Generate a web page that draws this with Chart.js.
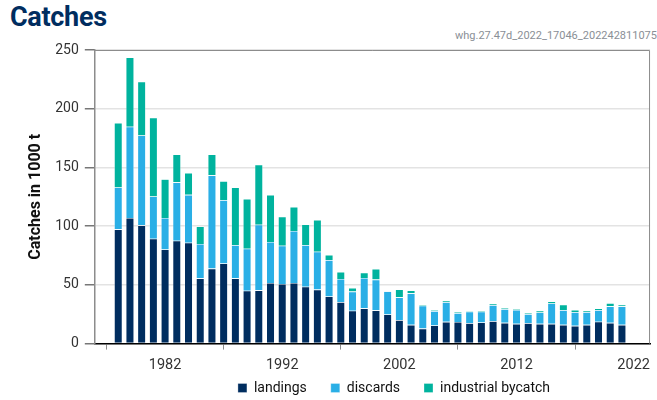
<!DOCTYPE html>
<html>
<head>
<meta charset="utf-8">
<script src="https://cdn.jsdelivr.net/npm/chart.js@4"></script>
<style>
  body { margin: 0; background: #fff; }
  #box { position: relative; width: 657px; height: 400px; overflow: hidden; }
  #titulo { position: absolute; left: 10px; top: 1px; font: bold 27px Roboto, sans-serif; color: #002d5f; letter-spacing: -0.3px; }
  #codigo { position: absolute; left: 455px; top: 29px; width: 202px; overflow: hidden; white-space: nowrap; font: 11px Roboto, sans-serif; color: #8a8f96; }
  canvas { position: absolute; left: 0; top: 0; }
</style>
</head>
<body>
<div id="box">
  <div id="titulo">Catches</div>
  <div id="codigo">whg.27.47d_2022_17046_20224281107525</div>
  <canvas id="grafico" width="657" height="400"></canvas>
</div>
<script>
// anos e valores (mil toneladas)
const anos = [1978, 1979, 1980, 1981, 1982, 1983, 1984, 1985, 1986, 1987, 1988, 1989, 1990, 1991,
  1992, 1993, 1994, 1995, 1996, 1997, 1998, 1999, 2000, 2001, 2002, 2003, 2004, 2005, 2006, 2007,
  2008, 2009, 2010, 2011, 2012, 2013, 2014, 2015, 2016, 2017, 2018, 2019, 2020, 2021];

const landings = [97.3, 107, 100.7, 89.3, 80.2, 87.6, 85.9, 55.6, 63.9, 68.2, 55.6, 45.1, 45.4, 51.6,
  50.8, 51.6, 48.5, 46, 40.2, 35.4, 28, 30, 28.3, 24.8, 20, 16, 12.8, 15.4, 18.5, 18.4,
  17.4, 18, 19.1, 17.7, 16.8, 17.4, 16.8, 16.8, 16, 15.1, 16, 18.6, 17.7, 16];

const discards = [35.7, 77.7, 76.5, 36, 26.8, 49.7, 40.8, 29.2, 79.4, 53.9, 28.3, 35.7, 55.9, 35,
  32.5, 44.3, 35.4, 32.2, 30.9, 19.7, 16.3, 25.9, 26.2, 19.7, 19.4, 26.8, 19.5, 12.3, 16.8, 7.6,
  9.7, 9.1, 13.7, 11.7, 12, 7.7, 9.7, 17.4, 12.5, 11.7, 10.8, 9.9, 14, 15.7];

const bycatch = [55, 59, 45.8, 67, 33, 23.9, 18.6, 15.1, 17.9, 16.3, 49.1, 42.5, 51.1, 40,
  24.8, 20.5, 17.7, 27.1, 4.5, 5.9, 3.1, 4.6, 9.1, 0.6, 6.8, 2.6, 0.7, 0.8, 1.2, 0.9,
  0.6, 0.9, 1.2, 0.9, 0.9, 0.9, 1.5, 1.8, 4.6, 2, 1.2, 1.5, 2.8, 1.4];

const anosMarcados = [1982, 1992, 2002, 2012, 2022];
const ticksY = [0, 50, 100, 150, 200, 250];

const fonte = 'Roboto, sans-serif';

// junta ano + valor para o eixo linear
function pontos(valores) {
  return anos.map((a, i) => ({ x: a, y: valores[i] }));
}

// moldura cinza em cima e na direita da area do grafico
const moldura = {
  id: 'moldura',
  afterDraw(chart) {
    const c = chart.ctx, a = chart.chartArea;
    c.save();
    c.strokeStyle = '#8c8c8c';
    c.lineWidth = 1;
    c.beginPath();
    c.moveTo(a.left, a.top + 0.5);
    c.lineTo(a.right - 0.5, a.top + 0.5);
    c.lineTo(a.right - 0.5, a.bottom);
    c.stroke();
    c.restore();
  }
};

// a legenda fica embaixo, um pouco deslocada para a direita como na figura
const moverLegenda = {
  id: 'moverLegenda',
  afterLayout(chart) {
    const lg = chart.legend;
    const pad = lg.options.labels.padding;
    const dx = 394 - (lg.left + lg.right) / 2;
    const dy = (388 - pad - 7) - lg.top;
    lg.left += dx; lg.right += dx;
    lg.top += dy; lg.bottom += dy;
  }
};

const estilo = { borderColor: 'rgba(255,255,255,0.5)', borderWidth: 0.6, barPercentage: 0.9, categoryPercentage: 0.78 };

new Chart(document.getElementById('grafico'), {
  type: 'bar',
  data: {
    datasets: [
      { label: 'landings', data: pontos(landings), backgroundColor: '#002d5f', ...estilo },
      { label: 'discards', data: pontos(discards), backgroundColor: '#2aafe6', ...estilo },
      { label: 'industrial bycatch', data: pontos(bycatch), backgroundColor: '#00b39e', ...estilo }
    ]
  },
  options: {
    responsive: false,
    animation: false,
    layout: { padding: { top: 50, right: 2, left: 22, bottom: -29 } },
    scales: {
      x: {
        type: 'linear',
        stacked: true,
        offset: false,
        min: 1976,
        max: 2023.4,
        afterBuildTicks: (eixo) => { eixo.ticks = anosMarcados.map(v => ({ value: v })); },
        ticks: { color: '#333', font: { family: fonte, size: 14.5 }, padding: 7, callback: (v) => String(v) },
        grid: { drawOnChartArea: false, drawTicks: true, tickLength: 6, color: '#8c8c8c' },
        border: { color: '#000', width: 1.5 }
      },
      y: {
        stacked: true,
        min: 0,
        max: 250,
        afterBuildTicks: (eixo) => { eixo.ticks = ticksY.map(v => ({ value: v })); },
        ticks: { color: '#333', font: { family: fonte, size: 14 }, padding: 6 },
        grid: { color: '#e3e3e3', lineWidth: 1.5, tickLength: 10, tickColor: '#777' },
        border: { color: '#8c8c8c', width: 1.5 },
        title: { display: true, text: 'Catches in 1000 t', color: '#111', font: { family: fonte, size: 16, weight: 'bold' }, padding: { bottom: 4 } }
      }
    },
    plugins: {
      legend: {
        position: 'bottom',
        labels: { boxWidth: 9, boxHeight: 9, color: '#111', font: { family: fonte, size: 14 }, padding: 24 }
      },
      tooltip: { enabled: false }
    }
  },
  plugins: [moldura, moverLegenda]
});
</script>
</body>
</html>
